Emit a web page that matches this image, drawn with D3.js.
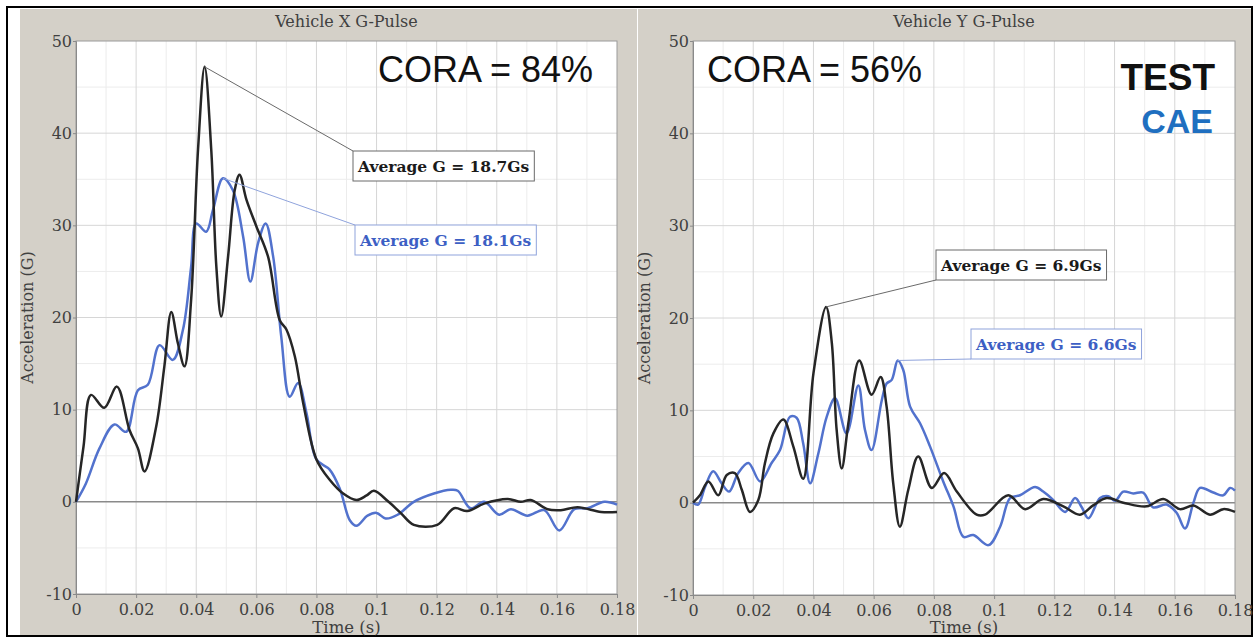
<!DOCTYPE html>
<html>
<head>
<meta charset="utf-8">
<script src="https://cdn.jsdelivr.net/npm/d3@7"></script>
<style>
  body { margin: 0; background: #fff; }
  svg text { font-family: 'DejaVu Serif', serif; }
</style>
</head>
<body>
<div id="chart"></div>
<script>
// Vehicle X pulse (left)
var timeXTest = [0, 0.0025, 0.005, 0.0094, 0.0136, 0.0178, 0.0206, 0.0228, 0.0267, 0.0294, 0.0317, 0.0339, 0.0361, 0.0383, 0.0406, 0.0428, 0.045, 0.0467, 0.0483, 0.0506, 0.0528, 0.0544, 0.0567, 0.06, 0.0639, 0.0678, 0.07, 0.0728, 0.0756, 0.08, 0.0844, 0.0889, 0.0933, 0.0967, 0.0991, 0.104, 0.108, 0.1124, 0.1202, 0.1258, 0.1302, 0.1358, 0.1436, 0.148, 0.1513, 0.1569, 0.1613, 0.1669, 0.1747, 0.18];
var accXTest = [0, 6.0, 11.6, 10.2, 12.5, 7.8, 5.8, 3.3, 8.2, 14.7, 20.6, 17.2, 14.7, 21.9, 38.2, 47.2, 38.2, 25.5, 20.1, 26.6, 33.8, 35.5, 32.8, 29.9, 26.6, 19.7, 18.7, 15.8, 10.7, 4.6, 2.4, 0.9, 0.2, 0.7, 1.2, 0.0, -1.2, -2.5, -2.5, -0.7, -1.0, -0.2, 0.3, 0.0, 0.2, -0.8, -0.9, -0.6, -1.1, -1.1];
var timeXCae = [0, 0.0033, 0.0078, 0.0128, 0.0167, 0.0206, 0.0239, 0.0278, 0.0322, 0.0356, 0.0383, 0.04, 0.0433, 0.0456, 0.0489, 0.0522, 0.0556, 0.058, 0.0606, 0.0631, 0.0656, 0.0683, 0.0711, 0.0739, 0.0767, 0.08, 0.0844, 0.0878, 0.0911, 0.0933, 0.097, 0.1, 0.103, 0.107, 0.1124, 0.1191, 0.1247, 0.127, 0.1313, 0.1358, 0.1408, 0.1447, 0.1502, 0.1558, 0.1608, 0.1658, 0.1702, 0.1758, 0.18];
var accXCae = [0, 2.0, 5.8, 8.4, 7.6, 12.1, 12.7, 17.0, 15.4, 18.7, 25.5, 30.2, 29.3, 31.7, 35.1, 33.8, 28.8, 23.9, 28.1, 30.2, 26.6, 17.9, 11.4, 12.9, 9.6, 4.6, 3.5, 1.4, -2.0, -2.6, -1.5, -1.2, -1.8, -1.4, 0.0, 0.9, 1.3, 1.2, -0.7, 0.0, -1.4, -0.8, -1.5, -0.9, -3.1, -0.8, -0.7, 0.0, -0.3];

// Vehicle Y pulse (right)
var timeYTest = [0, 0.0023, 0.0051, 0.0084, 0.0112, 0.0139, 0.0162, 0.0189, 0.0217, 0.0239, 0.0267, 0.03, 0.0333, 0.0366, 0.04, 0.0442, 0.0461, 0.0477, 0.0494, 0.0516, 0.0552, 0.0593, 0.0623, 0.0643, 0.0665, 0.0687, 0.0715, 0.0748, 0.0793, 0.0834, 0.0876, 0.0942, 0.097, 0.1047, 0.1103, 0.1163, 0.123, 0.1285, 0.1329, 0.1374, 0.1429, 0.1507, 0.1562, 0.1617, 0.1662, 0.1717, 0.1761, 0.18];
var accYTest = [0, 0.8, 2.3, 0.8, 3.0, 3.2, 1.4, -1.0, 0.3, 4.3, 7.5, 9.0, 6.1, 2.6, 14.0, 21.2, 17.3, 7.9, 3.7, 8.6, 15.4, 11.7, 13.6, 10.4, 2.1, -2.6, 1.4, 5.0, 1.6, 3.2, 1.2, -1.3, -1.3, 0.8, -0.7, 0.4, -0.4, -1.3, -0.3, 0.5, 0.0, -0.4, 0.4, -0.7, -0.3, -1.3, -0.7, -1.0];
var timeYCae = [0, 0.0017, 0.004, 0.0067, 0.0095, 0.012, 0.015, 0.0184, 0.0223, 0.0261, 0.0289, 0.0322, 0.0344, 0.0366, 0.0389, 0.0416, 0.0444, 0.0472, 0.051, 0.0549, 0.0571, 0.0593, 0.0627, 0.0643, 0.066, 0.068, 0.0698, 0.0721, 0.0754, 0.0787, 0.0831, 0.0865, 0.0898, 0.0931, 0.0981, 0.102, 0.1053, 0.1086, 0.1136, 0.1163, 0.1196, 0.1236, 0.1269, 0.1291, 0.1313, 0.1352, 0.1379, 0.1402, 0.1429, 0.1462, 0.1495, 0.1528, 0.1573, 0.1606, 0.1634, 0.1662, 0.1684, 0.1728, 0.1761, 0.1784, 0.18];
var accYCae = [0, -0.2, 1.7, 3.4, 2.1, 1.2, 3.2, 4.3, 2.3, 4.3, 5.7, 9.3, 9.2, 6.4, 2.1, 5.3, 9.3, 11.3, 7.5, 12.7, 7.9, 5.7, 11.1, 12.9, 13.3, 15.4, 14.4, 10.4, 8.6, 6.1, 2.3, -0.4, -3.7, -3.5, -4.6, -2.6, 0.5, 0.8, 1.7, 1.2, 0.3, -1.0, 0.5, -0.5, -1.7, 0.5, 0.7, 0.2, 1.2, 1.0, 1.1, -0.5, -0.2, -1.1, -2.8, 0.0, 1.6, 1.1, 0.8, 1.6, 1.3];

var xTicks = [0, 0.02, 0.04, 0.06, 0.08, 0.1, 0.12, 0.14, 0.16, 0.18];
var yTicks = [-10, 0, 10, 20, 30, 40, 50];
var chartTitles = ['Vehicle X G-Pulse', 'Vehicle Y G-Pulse'];
var coraLabels = ['CORA = 84%', 'CORA = 56%'];
var avgTest = ['Average G = 18.7Gs', 'Average G = 6.9Gs'];
var avgCae = ['Average G = 18.1Gs', 'Average G = 6.6Gs'];

var width = 1257;
var height = 639;
var testColor = '#262626';
var caeColor = '#5272cd';

var svg = d3.select('#chart')
    .append('svg')
    .attr('width', width)
    .attr('height', height);

svg.append('rect')
    .attr('x', 7).attr('y', 7)
    .attr('width', 1245).attr('height', 629)
    .attr('fill', '#fff')
    .attr('stroke', '#000')
    .attr('stroke-width', 2);

function zip(t, v) {
  return t.map(function(d, i) { return [d, v[i]]; });
}

function drawChart(cfg) {
  var panel = svg.append('g');

  panel.append('rect')
      .attr('x', cfg.panel[0]).attr('y', 9)
      .attr('width', cfg.panel[1] - cfg.panel[0])
      .attr('height', 626)
      .attr('fill', '#d4d0c8');

  var scaleX = d3.scaleLinear()
      .domain([0, 0.18])
      .range([cfg.left, cfg.right]);
  var scaleY = d3.scaleLinear()
      .domain([-10, 50])
      .range([cfg.bottom, cfg.top]);

  // plot background
  panel.append('rect')
      .attr('x', cfg.left).attr('y', cfg.top)
      .attr('width', cfg.right - cfg.left)
      .attr('height', cfg.bottom - cfg.top)
      .attr('fill', '#fff');

  // minor grid
  var minorX = d3.range(1, 18, 2).map(function(d) { return d / 100; });
  var minorY = [-5, 5, 15, 25, 35, 45];
  panel.append('g').selectAll('line')
      .data(minorX).enter().append('line')
      .attr('x1', function(d) { return scaleX(d); })
      .attr('x2', function(d) { return scaleX(d); })
      .attr('y1', cfg.top).attr('y2', cfg.bottom)
      .attr('stroke', '#ececec');
  panel.append('g').selectAll('line')
      .data(minorY).enter().append('line')
      .attr('y1', function(d) { return scaleY(d); })
      .attr('y2', function(d) { return scaleY(d); })
      .attr('x1', cfg.left).attr('x2', cfg.right)
      .attr('stroke', '#ececec');

  // major grid
  panel.append('g').selectAll('line')
      .data(xTicks.slice(1, -1)).enter().append('line')
      .attr('x1', function(d) { return scaleX(d); })
      .attr('x2', function(d) { return scaleX(d); })
      .attr('y1', cfg.top).attr('y2', cfg.bottom)
      .attr('stroke', '#d6d6d6');
  panel.append('g').selectAll('line')
      .data(yTicks.slice(1, -1)).enter().append('line')
      .attr('y1', function(d) { return scaleY(d); })
      .attr('y2', function(d) { return scaleY(d); })
      .attr('x1', cfg.left).attr('x2', cfg.right)
      .attr('stroke', function(d) { return d === 0 ? '#8a8a8a' : '#d6d6d6'; })
      .attr('stroke-width', function(d) { return d === 0 ? 1.5 : 1; });

  panel.append('rect')
      .attr('x', cfg.left).attr('y', cfg.top)
      .attr('width', cfg.right - cfg.left)
      .attr('height', cfg.bottom - cfg.top)
      .attr('fill', 'none')
      .attr('stroke', '#9a9a9a');

  // Axes
  var axisX = d3.axisBottom(scaleX)
      .tickValues(xTicks)
      .tickFormat(function(d) { return String(d); })
      .tickSize(4)
      .tickPadding(6);
  var gx = panel.append('g')
      .attr('transform', 'translate(0,' + cfg.bottom + ')')
      .call(axisX);

  var axisY = d3.axisLeft(scaleY)
      .tickValues(yTicks)
      .tickFormat(function(d) { return String(d); })
      .tickSize(3)
      .tickPadding(1);
  var gy = panel.append('g')
      .attr('transform', 'translate(' + cfg.left + ',0)')
      .call(axisY);

  [gx, gy].forEach(function(g) {
    g.select('.domain').attr('stroke', '#8a8a8a');
    g.selectAll('.tick line').attr('stroke', '#8a8a8a');
    g.selectAll('.tick text')
        .attr('fill', '#404040')
        .style('font-family', "'DejaVu Serif', serif")
        .style('font-size', '16px');
  });

  panel.append('text')
      .attr('x', (cfg.left + cfg.right) / 2)
      .attr('y', 27)
      .attr('text-anchor', 'middle')
      .attr('fill', '#404040')
      .style('font-size', '16px')
      .text(cfg.title);

  panel.append('text')
      .attr('x', (cfg.left + cfg.right) / 2)
      .attr('y', 633)
      .attr('text-anchor', 'middle')
      .attr('fill', '#404040')
      .style('font-size', '16.5px')
      .text('Time (s)');

  panel.append('text')
      .attr('transform', 'translate(' + (cfg.left - 43) + ',' + ((cfg.top + cfg.bottom) / 2) + ') rotate(-90)')
      .attr('text-anchor', 'middle')
      .attr('fill', '#404040')
      .style('font-size', '16px')
      .text('Acceleration (G)');

  // Lines
  var line = d3.line()
      .x(function(d) { return scaleX(d[0]); })
      .y(function(d) { return scaleY(d[1]); })
      .curve(d3.curveCatmullRom.alpha(0.5));

  panel.append('path')
      .datum(zip(cfg.caeT, cfg.caeV))
      .attr('d', line)
      .attr('fill', 'none')
      .attr('stroke', caeColor)
      .attr('stroke-width', 2.5);

  panel.append('path')
      .datum(zip(cfg.testT, cfg.testV))
      .attr('d', line)
      .attr('fill', 'none')
      .attr('stroke', testColor)
      .attr('stroke-width', 2.5);

  // CORA label
  panel.append('text')
      .attr('x', cfg.coraX)
      .attr('y', 82)
      .attr('fill', '#111')
      .style('font-family', "'Liberation Sans', Arial, sans-serif")
      .style('font-size', '36px')
      .text(cfg.cora);

  // Average G callouts: leader line from the series peak to the box corner
  cfg.notes.forEach(function(n) {
    var peakT = n.series[0][d3.maxIndex(n.series[1])];
    var peakV = d3.max(n.series[1]);
    var end = n.corner === 'top' ? [n.box[0], n.box[1]] : [n.box[0], n.box[1] + 30];
    panel.append('line')
        .attr('x1', scaleX(peakT)).attr('y1', scaleY(peakV))
        .attr('x2', end[0]).attr('y2', end[1])
        .attr('stroke', n.border)
        .attr('stroke-width', 1);
    var g = panel.append('g');
    var box = g.append('rect')
        .attr('x', n.box[0])
        .attr('y', n.box[1])
        .attr('height', 30)
        .attr('fill', '#fff')
        .attr('stroke', n.border);
    var txt = g.append('text')
        .attr('x', n.box[0] + 5)
        .attr('y', n.box[1] + 21)
        .attr('fill', n.color)
        .style('font-weight', 'bold')
        .style('font-size', '15.5px')
        .text(n.label);
    box.attr('width', txt.node().getComputedTextLength() + 10);
  });
}

drawChart({
  panel: [20, 637], left: 76, right: 617, top: 41, bottom: 594,
  title: chartTitles[0], cora: coraLabels[0], coraX: 378,
  testT: timeXTest, testV: accXTest, caeT: timeXCae, caeV: accXCae,
  notes: [
    {label: avgTest[0], series: [timeXTest, accXTest], box: [353, 151], corner: 'top', color: '#1a1a1a', border: '#6a6a6a'},
    {label: avgCae[0], series: [timeXCae, accXCae], box: [355, 225], corner: 'top', color: '#3d5fc4', border: '#8fa3dc'}
  ]
});

drawChart({
  panel: [638, 1251], left: 693, right: 1235, top: 41, bottom: 595,
  title: chartTitles[1], cora: coraLabels[1], coraX: 707,
  testT: timeYTest, testV: accYTest, caeT: timeYCae, caeV: accYCae,
  notes: [
    {label: avgTest[1], series: [timeYTest, accYTest], box: [936, 250], corner: 'bottom', color: '#1a1a1a', border: '#6a6a6a'},
    {label: avgCae[1], series: [timeYCae, accYCae], box: [971, 329], corner: 'bottom', color: '#3d5fc4', border: '#8fa3dc'}
  ]
});

// Legend
svg.append('text')
    .attr('x', 1215).attr('y', 90)
    .attr('text-anchor', 'end')
    .attr('fill', '#111')
    .style('font-family', "'Liberation Sans', Arial, sans-serif")
    .style('font-weight', 'bold')
    .style('font-size', '37px')
    .text('TEST');
svg.append('text')
    .attr('x', 1213).attr('y', 133)
    .attr('text-anchor', 'end')
    .attr('fill', '#1f6fc0')
    .style('font-family', "'Liberation Sans', Arial, sans-serif")
    .style('font-weight', 'bold')
    .style('font-size', '34px')
    .text('CAE');
</script>
</body>
</html>
